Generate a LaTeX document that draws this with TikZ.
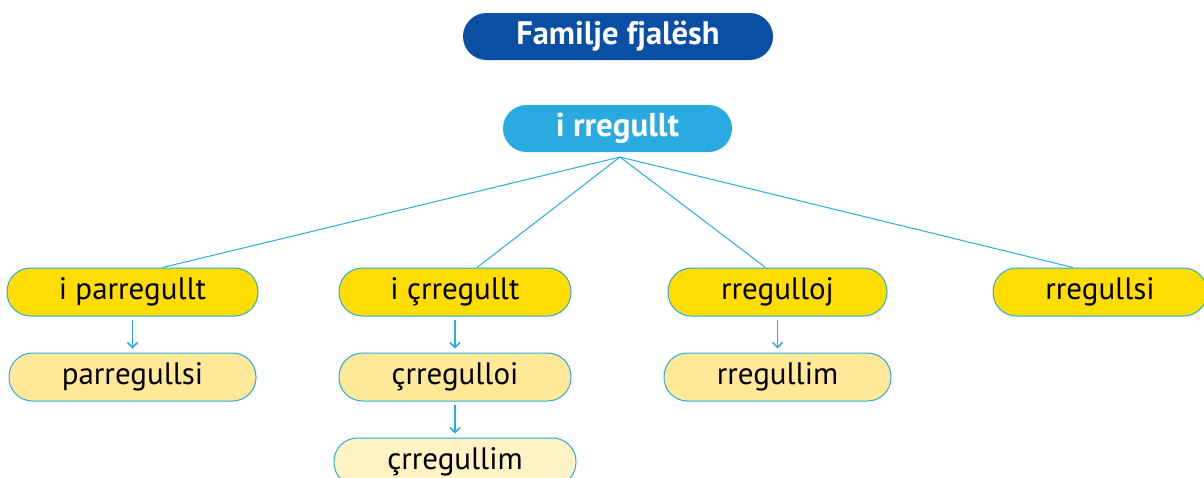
\documentclass[tikz,border=0pt]{standalone}
\usepackage{fontspec}
\setmainfont{PT Sans}
\usetikzlibrary{arrows.meta}
\definecolor{navy}{HTML}{0A4FA3}
\definecolor{sky}{HTML}{29ABE2}
\definecolor{gold}{HTML}{FFDD00}
\definecolor{paleGold}{HTML}{FFE898}
\definecolor{cream}{HTML}{FFF3C6}
\tikzset{
  pill/.style={rectangle, rounded corners=23.5pt, minimum height=47pt, inner sep=0pt},
  header/.style={pill, fill=navy, text=white, font=\fontsize{32.5}{34}\selectfont\bfseries},
  rootbox/.style={pill, fill=sky, text=white, font=\fontsize{33}{34}\selectfont\bfseries},
  word/.style={pill, draw=sky, line width=1pt, font=\fontsize{31}{33}\selectfont, minimum height=48pt},
  lvlone/.style={word, fill=gold},
  lvltwo/.style={word, fill=paleGold},
  lvlthree/.style={word, fill=cream},
  link/.style={draw=sky, line width=1pt},
  down/.style={draw=sky, line width=1.7pt, -{Straight Barb[length=5pt,width=10pt,line width=1.5pt]}}
}
\begin{document}
\begin{tikzpicture}[x=1pt,y=-1pt]
\useasboundingbox (0,0) rectangle (1204,477);
\clip (0,0) rectangle (1204,477);

% heading and root word
\node[header, minimum width=310pt] (title) at (618,36.5) {Familje fjalësh};
\node[rootbox, minimum width=229pt] (root) at (617.5,128.5) {i rregullt};
\coordinate (hub) at (620,157);

% first row of derived words
\node[lvlone, minimum width=251pt] (a1) at (132.5,292) {i parregullt};
\node[lvlone, minimum width=232pt] (a2) at (455,292) {i çrregullt};
\node[lvlone, minimum width=219pt] (a3) at (777.5,292) {rregulloj};
\node[lvlone, minimum width=214pt] (a4) at (1100,292) {rregullsi};

% second row
\node[lvltwo, minimum width=247pt] (b1) at (132.5,377) {parregullsi};
\node[lvltwo, minimum width=232pt] (b2) at (455,377) {çrregulloi};
\node[lvltwo, minimum width=227pt] (b3) at (777.5,377) {rregullim};

% third row
\node[lvlthree, minimum width=242pt] (c2) at (455,462) {çrregullim};

% branches from the root
\draw[link] (hub) -- ([xshift=30pt]a1.north);
\draw[link] (hub) -- ([xshift=22pt]a2.north);
\draw[link] (hub) -- ([xshift=-12pt]a3.north);
\draw[link] (hub) -- ([xshift=-27pt]a4.north);

% derivation arrows
\draw[down] ([yshift=-3pt]a1.south) -- ([yshift=4pt]b1.north);
\draw[down] ([yshift=-3pt]a2.south) -- ([yshift=4pt]b2.north);
\draw[down] ([yshift=-3pt]a3.south) -- ([yshift=4pt]b3.north);
\draw[down] ([yshift=-3pt]b2.south) -- ([yshift=4pt]c2.north);
\end{tikzpicture}
\end{document}
